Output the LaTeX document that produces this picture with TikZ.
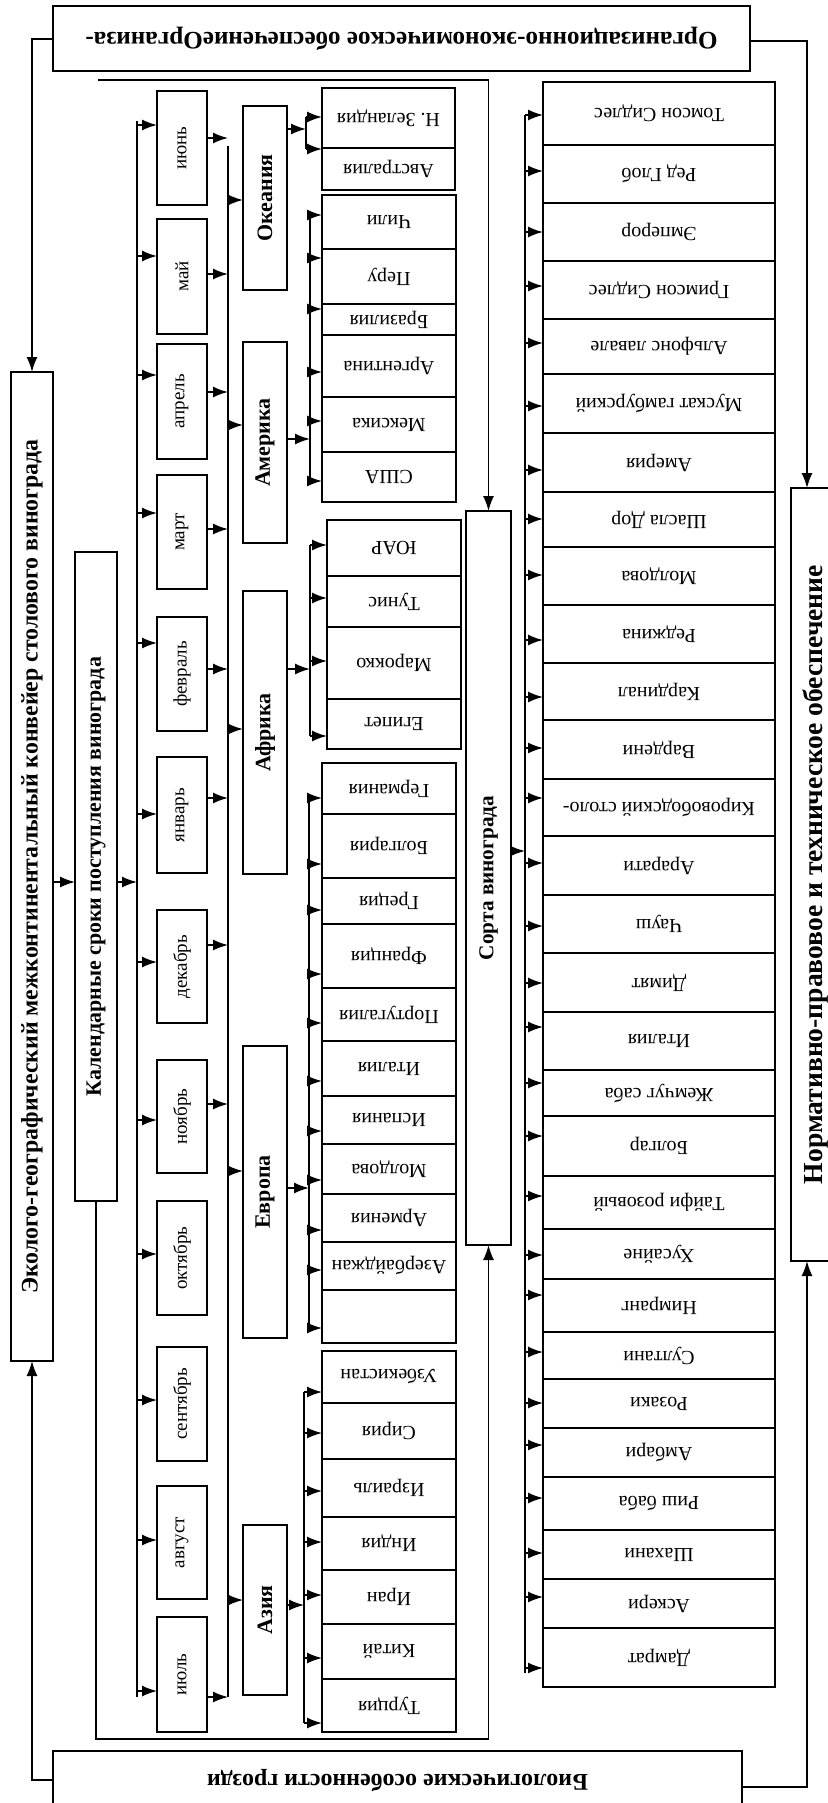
\documentclass[tikz,border=0pt]{standalone}
\usepackage{fontspec}
\setmainfont{Liberation Serif}
\usepackage{graphicx}
\usetikzlibrary{arrows.meta}
\newcommand\bx[7]{\node[bx,#6,minimum width={(#4)-(#2)},minimum height={(#5)-(#3)}] (#1) at ({((#2)+(#4))/2},{((#3)+(#5))/2}) {#7};}
\newcommand\ud[1]{\rotatebox{180}{#1}}
\newcommand\vt[1]{\rotatebox{90}{#1}}
\begin{document}
\begin{tikzpicture}[x=1pt,y=-1pt,
  bx/.style={draw,line width=1.5pt,inner sep=0pt,outer sep=0pt,fill=white},
  ln/.style={line width=1.5pt},
  arr/.style={line width=1.5pt,-{Latex[length=15pt,width=11pt]}},
  mon/.style={font=\fontsize{19}{21}\selectfont},
  cou/.style={font=\fontsize{20}{22}\selectfont},
  con/.style={font=\fontsize{22}{24}\selectfont\bfseries}]
\fill[white] (0,0) rectangle (827,1803);
\useasboundingbox (0,0) rectangle (827,1803);
% main boxes
\bx{top}{53}{6}{750}{71}{}{\ud{\resizebox{632pt}{!}{\bfseries Организационно-экономическое обеспечениеОрганиза-}}}
\bx{eco}{11}{372}{53}{1361}{}{\vt{\resizebox{854pt}{!}{\bfseries Эколого-географический межконтинентальный конвейер столового винограда}}}
\bx{cal}{75}{552}{117}{1201}{}{\vt{\resizebox{439pt}{!}{\bfseries Календарные сроки поступления винограда}}}
\bx{sor}{466}{511}{511}{1245}{}{\vt{\resizebox{164pt}{!}{\bfseries Сорта винограда}}}
\bx{nor}{791}{488}{840}{1261}{}{\vt{\resizebox{619pt}{!}{\bfseries Нормативно-правовое и техническое обеспечение}}}
\bx{bio}{53}{1751}{742}{1810}{}{\ud{\resizebox{381pt}{!}{\bfseries Биологические особенности грозди}}}
% months
\foreach \n/\ya/\yb/\t in {jun/91/205/июнь, may/219/334/май, apr/344/459/апрель, mar/475/589/март, feb/617/731/февраль, jan/757/873/январь, dec/910/1023/декабрь, nov/1060/1173/ноябрь, oct/1201/1315/октябрь, sep/1347/1461/сентябрь, aug/1486/1599/август, jul/1617/1732/июль}{
  \bx{\n}{157}{\ya}{207}{\yb}{mon}{\vt{\t}}
}
% continents
\bx{oce}{243}{106}{287}{290}{con}{\vt{Океания}}
\bx{ame}{243}{342}{287}{543}{con}{\vt{Америка}}
\bx{afr}{243}{591}{287}{874}{con}{\vt{Африка}}
\bx{eur}{243}{1046}{287}{1338}{con}{\vt{Европа}}
\bx{asi}{243}{1525}{287}{1695}{con}{\vt{Азия}}
% countries
\bx{cNz}{322}{88}{455}{148}{cou}{\ud{Н. Зеландия}}
\bx{cAu}{322}{148}{455}{190}{cou}{\ud{Австралия}}
\foreach \n/\ya/\yb/\t in {cChi/195/249/Чили, cPer/249/304/Перу, cBra/304/335/Бразилия, cArg/335/397/Аргентина, cMex/397/452/Мексика, cUsa/452/502/США, cGer/763/814/Германия, cBul/814/878/Болгария, cGre/878/924/Греция, cFra/924/988/Франция, cPor/988/1041/Португалия, cIta/1041/1096/Италия, cSpa/1096/1144/Испания, cMol/1144/1194/Молдова, cArm/1194/1242/Армения, cAze/1242/1290/Азербайджан, cEmp/1290/1343/{}, cUzb/1351/1403/Узбекистан, cSyr/1403/1459/Сирия, cIsr/1459/1517/Израиль, cInd/1517/1570/Индия, cIra/1570/1624/Иран, cChn/1624/1679/Китай, cTur/1679/1732/Турция}{
  \bx{\n}{322}{\ya}{456}{\yb}{cou}{\ud{\t}}
}
\foreach \n/\ya/\yb/\t in {cSaf/520/576/ЮАР, cTun/576/627/Тунис, cMor/627/699/Марокко, cEgy/699/749/Египет}{
  \bx{\n}{327}{\ya}{461}{\yb}{cou}{\ud{\t}}
}
% varieties
\foreach \i/\ya/\yb/\ar/\t in {1/82/145/115/Томсон Сидлес, 2/145/203/171/Ред Глоб, 3/203/261/232/Эмперор, 4/261/319/286/Гримсон Сидлес, 5/319/374/343/Альфонс лавале, 6/374/433/406/Мускат гамбурский, 7/433/492/470/Америя, 8/492/547/519/Шасла Дор, 9/547/605/575/Молдова, 10/605/663/640/Реджина, 11/663/720/697/Кардинал, 12/720/779/748/Вардени, 13/779/836/798/Кировободский столо-, 14/836/895/863/Арарати, 15/895/953/926/Чауш, 16/953/1012/983/Димят, 17/1012/1070/1027/Италия, 18/1070/1116/1083/Жемчуг саба, 19/1116/1176/1136/Болгар, 20/1176/1229/1196/Тайфи розовый, 21/1229/1279/1255/Хусайне, 22/1279/1332/1295/Нимранг, 23/1332/1379/1352/Султани, 24/1379/1428/1403/Розаки, 25/1428/1477/1445/Амбари, 26/1477/1530/1498/Риш баба, 27/1530/1579/1553/Шахани, 28/1579/1628/1597/Аскери, 29/1628/1687/1668/Дамрат}{
  \bx{v\i}{543}{\ya}{775}{\yb}{cou}{\ud{\t}}
  \coordinate (vb\i) at (525,\ar);
  \draw[arr] (vb\i) -- (vb\i -| v\i.west);
}
% outer connectors
\coordinate (tl) at (32,39);
\draw[arr] (top.west |- tl) -- (tl) -- (eco.north);
\coordinate (tr) at (807,41);
\draw[arr] (top.east |- tr) -- (tr) -- (tr |- nor.north);
\coordinate (bl) at (32,1780);
\draw[arr] (bio.west |- bl) -- (bl) -- (eco.south);
\coordinate (br) at (807,1787);
\draw[arr] (bio.east |- br) -- (br) -- (br |- nor.south);
% eco -> cal -> month bus
\coordinate (cin) at (137,882);
\draw[arr] (eco.east |- cin) -- (cal.west |- cin);
\draw[arr] (cal.east |- cin) -- (cin);
\coordinate (mbT) at (137,121); \coordinate (mbB) at (137,1697);
\draw[ln] (mbT) -- (mbB);
\foreach \n/\y in {jun/125, may/256, apr/375, mar/513, feb/643, jan/814, dec/962, nov/1120, oct/1254, sep/1400, aug/1540, jul/1691}{
  \coordinate (mb\n) at (137,\y);
  \draw[arr] (mb\n) -- (mb\n -| \n.west);
}
% months -> continent bus
\coordinate (cbT) at (228,146); \coordinate (cbB) at (228,1697);
\draw[ln] (cbT) -- (cbB);
\foreach \n/\y in {jun/138, may/274, apr/392, mar/529, feb/669, jan/798, dec/945, nov/1104, jul/1697}{
  \coordinate (mr\n) at (228,\y);
  \draw[arr] (mr\n -| \n.east) -- (mr\n);
}
\foreach \n/\y in {oce/200, ame/425, afr/729, eur/1171, asi/1600}{
  \coordinate (cb\n) at (228,\y);
  \draw[arr] (cb\n) -- (cb\n -| \n.west);
}
% Oceania
\coordinate (obI) at (306,129); \coordinate (obT) at (306,117); \coordinate (obB) at (306,149);
\draw[arr] (oce.east |- obI) -- (obI);
\draw[ln] (obT) -- (obB);
\draw[arr] (obT) -- (obT -| cNz.west);
\draw[arr] (obB) -- (obB -| cAu.west);
% America
\coordinate (amT) at (310,215); \coordinate (amB) at (310,481); \coordinate (amI) at (310,439);
\draw[ln] (amT) -- (amB);
\draw[arr] (amI -| ame.east) -- (amI);
\foreach \n/\y in {cChi/215, cPer/258, cBra/309, cArg/372, cMex/421, cUsa/481}{
  \coordinate (p\n) at (310,\y); \draw[arr] (p\n) -- (p\n -| \n.west);
}
% Africa
\coordinate (afT) at (310,545); \coordinate (afB) at (310,736); \coordinate (afI) at (310,669);
\draw[ln] (afT) -- (afB);
\draw[arr] (afI -| afr.east) -- (afI);
\foreach \n/\y in {cSaf/545, cTun/598, cMor/661, cEgy/736}{
  \coordinate (p\n) at (310,\y); \draw[arr] (p\n) -- (p\n -| \n.west);
}
% Europe
\coordinate (euT) at (309,798); \coordinate (euB) at (309,1328); \coordinate (euI) at (309,1188);
\draw[ln] (euT) -- (euB);
\draw[arr] (euI -| eur.east) -- (euI);
\foreach \n/\y in {cGer/798, cBul/864, cGre/910, cFra/974, cPor/1023, cIta/1081, cSpa/1131, cMol/1180, cArm/1230, cAze/1270, cEmp/1328}{
  \coordinate (p\n) at (309,\y); \draw[arr] (p\n) -- (p\n -| \n.west);
}
% Asia
\coordinate (asT) at (304,1392); \coordinate (asB) at (304,1723); \coordinate (asI) at (304,1605);
\draw[ln] (asT) -- (asB);
\draw[arr] (asI -| asi.east) -- (asI);
\foreach \n/\y in {cUzb/1392, cSyr/1433, cIsr/1491, cInd/1542, cIra/1595, cChn/1658, cTur/1723}{
  \coordinate (p\n) at (304,\y); \draw[arr] (p\n) -- (p\n -| \n.west);
}
% varieties bus
\coordinate (vbT) at (525,115); \coordinate (vbB) at (525,1673); \coordinate (vbI) at (525,851);
\draw[ln] (vbT) -- (vbB);
\draw[arr] (vbI -| sor.east) -- (vbI);
% enclosing lines to Sorta
\coordinate (enT) at (98,80);
\draw[arr] (enT) -- (enT -| sor.north) -- (sor.north);
\coordinate (enB) at (96,1739);
\draw[arr] (cal.south) -- (cal.south |- enB) -- (enB -| sor.south) -- (sor.south);
\end{tikzpicture}
\end{document}
